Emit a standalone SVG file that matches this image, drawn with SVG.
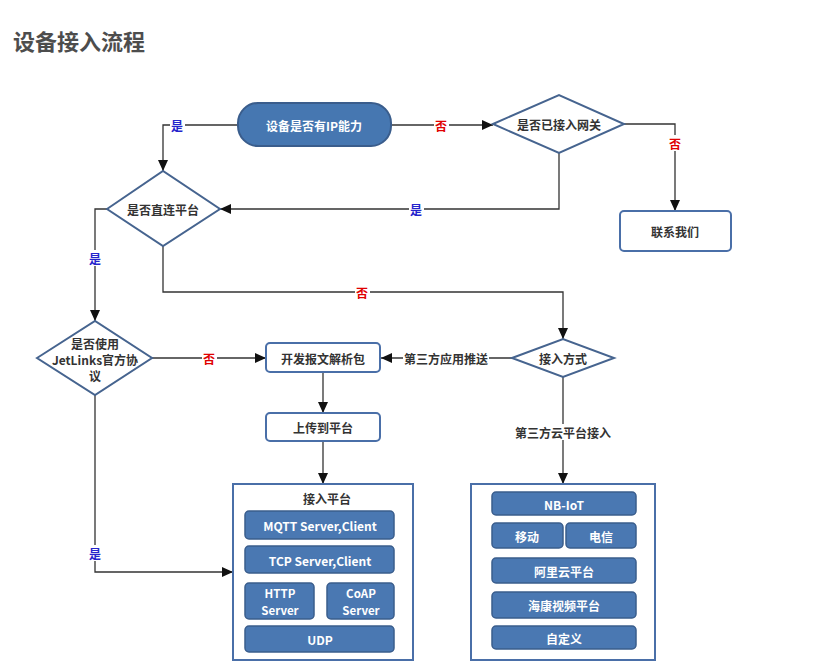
<svg xmlns="http://www.w3.org/2000/svg" width="837" height="666" viewBox="0 0 837 666">
<defs>
<marker id="ah" markerWidth="12" markerHeight="10" refX="11" refY="5" orient="auto" markerUnits="userSpaceOnUse"><path d="M0,0 L11,5 L0,10 z" fill="#111"/></marker>
<style>
text{font-family:"Noto Sans CJK SC","Noto Sans",sans-serif;font-weight:bold;text-anchor:middle;dominant-baseline:central}
.t{font-size:12px;fill:#333}
.w{font-size:12px;fill:#fff}
.w2{font-size:11.5px;fill:#fff}
.dia{fill:#fff;stroke:#46648f;stroke-width:2}
.box{fill:#fff;stroke:#4a6fa8;stroke-width:2}
.blue{fill:#4a78b2;stroke:#3a5d8c;stroke-width:1.5}
.ln{fill:none;stroke:#333;stroke-width:1.3}
.yes{font-size:12px;fill:#2424cc}
.no{font-size:12px;fill:#e00000}
.bg{fill:#fff}
</style>
</defs>
<rect width="837" height="666" fill="#fff"/>
<text x="13" y="40" style="font-size:22px;fill:#4d4d4d;text-anchor:start">设备接入流程</text>

<g id="connectors">
<polyline class="ln" points="238,125 163,125 163,171" marker-end="url(#ah)"/>
<line class="ln" x1="391" y1="125" x2="493" y2="125" marker-end="url(#ah)"/>
<polyline class="ln" points="624,124 675,124 675,211" marker-end="url(#ah)"/>
<polyline class="ln" points="559,153 559,209 220,209" marker-end="url(#ah)"/>
<polyline class="ln" points="107,209 95,209 95,321" marker-end="url(#ah)"/>
<polyline class="ln" points="163,246 163,292 563,292 563,339" marker-end="url(#ah)"/>
<line class="ln" x1="152" y1="358" x2="266" y2="358" marker-end="url(#ah)"/>
<line class="ln" x1="512" y1="358" x2="381" y2="358" marker-end="url(#ah)"/>
<line class="ln" x1="323" y1="372" x2="323" y2="413" marker-end="url(#ah)"/>
<line class="ln" x1="323" y1="441" x2="323" y2="484" marker-end="url(#ah)"/>
<polyline class="ln" points="95,395 95,572 233,572" marker-end="url(#ah)"/>
<line class="ln" x1="563" y1="377" x2="563" y2="484" marker-end="url(#ah)"/>

<rect class="bg" x="170" y="117" width="15" height="16"/><text class="yes" x="177" y="125">是</text>
<rect class="bg" x="434" y="117" width="15" height="16"/><text class="no" x="441" y="125">否</text>
<rect class="bg" x="668" y="135" width="15" height="16"/><text class="no" x="675" y="143">否</text>
<rect class="bg" x="409" y="201" width="15" height="16"/><text class="yes" x="416" y="209">是</text>
<rect class="bg" x="88" y="250" width="15" height="16"/><text class="yes" x="95" y="258">是</text>
<rect class="bg" x="355" y="284" width="15" height="16"/><text class="no" x="362" y="292">否</text>
<rect class="bg" x="202" y="350" width="15" height="16"/><text class="no" x="209" y="358">否</text>
<rect class="bg" x="403" y="350" width="86" height="16"/><text class="t" x="446" y="358">第三方应用推送</text>
<rect class="bg" x="514" y="424" width="98" height="16"/><text class="t" x="563" y="432">第三方云平台接入</text>
<rect class="bg" x="88" y="545" width="15" height="16"/><text class="yes" x="95" y="553">是</text>
</g>

<g id="start"><rect x="238" y="103" width="153" height="43" rx="20" fill="#4677b1" stroke="#3a5d8c" stroke-width="2"/><text class="w" x="314" y="125">设备是否有IP能力</text></g>
<g id="gateway"><polygon class="dia" points="493,124 559,95 624,124 559,153"/><text class="t" x="559" y="124">是否已接入网关</text></g>
<g id="contact"><rect class="box" x="620" y="211" width="111" height="40" rx="4"/><text class="t" x="675" y="231">联系我们</text></g>
<g id="direct"><polygon class="dia" points="107,209 163,171 220,209 163,246"/><text class="t" x="163" y="209">是否直连平台</text></g>
<g id="official"><polygon class="dia" points="37,358 95,321 152,358 95,395"/><text class="t" x="95" y="343">是否使用</text><text class="t" x="95" y="359">JetLinks官方协</text><text class="t" x="95" y="375">议</text></g>
<g id="method"><polygon class="dia" points="512,358 563,339 614,358 563,377"/><text class="t" x="563" y="358">接入方式</text></g>
<g id="parse"><rect class="box" x="266" y="343" width="114" height="29" rx="4"/><text class="t" x="323" y="358">开发报文解析包</text></g>
<g id="upload"><rect class="box" x="266" y="413" width="114" height="28" rx="4"/><text class="t" x="323" y="427">上传到平台</text></g>

<g id="platform">
<rect x="233" y="484" width="180" height="176" fill="#fff" stroke="#4a6fa8" stroke-width="2"/>
<text class="t" x="327" y="498">接入平台</text>
<rect class="blue" x="245" y="511" width="149" height="28" rx="4"/><text class="w" x="320" y="525">MQTT Server,Client</text>
<rect class="blue" x="245" y="546" width="149" height="27" rx="4"/><text class="w" x="320" y="560">TCP Server,Client</text>
<rect class="blue" x="245" y="583" width="69" height="36" rx="4"/><text class="w2" x="280" y="593">HTTP</text><text class="w2" x="280" y="610">Server</text>
<rect class="blue" x="327" y="583" width="67" height="36" rx="4"/><text class="w2" x="361" y="593">CoAP</text><text class="w2" x="361" y="610">Server</text>
<rect class="blue" x="245" y="626" width="149" height="26" rx="4"/><text class="w" x="320" y="639">UDP</text>
</g>

<g id="cloud">
<rect x="471" y="484" width="184" height="176" fill="#fff" stroke="#4a6fa8" stroke-width="2"/>
<rect class="blue" x="492" y="492" width="144" height="23" rx="4"/><text class="w" x="564" y="504">NB-IoT</text>
<rect class="blue" x="492" y="523" width="71" height="25" rx="4"/><text class="w" x="527" y="536">移动</text>
<rect class="blue" x="566" y="523" width="70" height="25" rx="4"/><text class="w" x="601" y="536">电信</text>
<rect class="blue" x="492" y="558" width="144" height="25" rx="4"/><text class="w" x="564" y="571">阿里云平台</text>
<rect class="blue" x="492" y="592" width="144" height="26" rx="4"/><text class="w" x="564" y="605">海康视频平台</text>
<rect class="blue" x="492" y="626" width="144" height="23" rx="4"/><text class="w" x="564" y="638">自定义</text>
</g>
</svg>
